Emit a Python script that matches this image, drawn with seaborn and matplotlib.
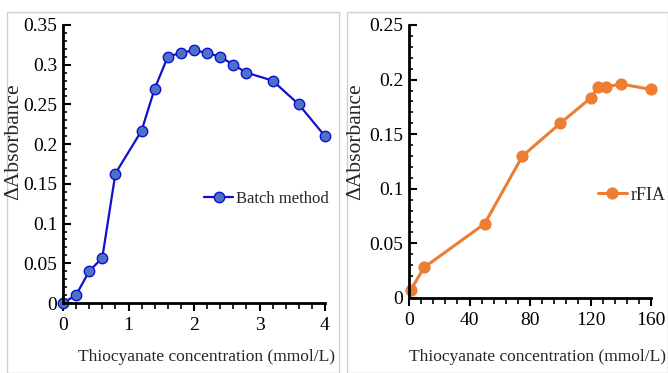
import matplotlib
matplotlib.use("Agg")
import matplotlib.pyplot as plt
import seaborn as sns
import pandas as pd
from matplotlib.patches import Rectangle
from matplotlib.ticker import MultipleLocator, FuncFormatter

batch_conc = [0, 0.2, 0.4, 0.6, 0.8, 1.2, 1.4, 1.6, 1.8, 2.0, 2.2, 2.4, 2.6, 2.8, 3.2, 3.6, 4.0]
batch_abs = [0.0, 0.01, 0.04, 0.057, 0.163, 0.217, 0.27, 0.31, 0.315, 0.318, 0.315, 0.31, 0.30, 0.29, 0.28, 0.25, 0.21]
rfia_conc = [1, 10, 50, 75, 100, 120, 125, 130, 140, 160]
rfia_abs = [0.007, 0.028, 0.068, 0.13, 0.16, 0.183, 0.193, 0.193, 0.196, 0.191]

sns.set_theme(style="white")
plt.rcParams['font.family'] = ['Liberation Serif', 'DejaVu Serif']

W, H = 668, 373
fig = plt.figure(figsize=(W/100, H/100), dpi=100)

# panel frames
for x0, x1 in [(7, 339), (347, 668)]:
    fig.patches.append(Rectangle((x0/W, 0), (x1-x0)/W, (H-12)/H, transform=fig.transFigure,
                                 fill=False, edgecolor='#d0d0d0', lw=1))

def ax_at(l, r, t, b):
    return fig.add_axes([l/W, (H-b)/H, (r-l)/W, (b-t)/H])

ax1 = ax_at(63, 325, 25, 303)
ax2 = ax_at(409, 651, 25, 298)

df1 = pd.DataFrame({'x': batch_conc, 'y': batch_abs})
df2 = pd.DataFrame({'x': rfia_conc, 'y': rfia_abs})

sns.lineplot(data=df1, x='x', y='y', ax=ax1, color='#1010d0', lw=1.6, marker='o',
             markersize=7.5, markerfacecolor='#4a72c8', markeredgecolor='#1010d0',
             markeredgewidth=1, label='Batch method', clip_on=False)
sns.lineplot(data=df2, x='x', y='y', ax=ax2, color='#ed7d31', lw=2.2, marker='o',
             markersize=8, markerfacecolor='#ed7d31', markeredgecolor='#ed7d31',
             label='rFIA', clip_on=False)

ax1.set_xlim(0, 4); ax1.set_ylim(0, 0.35)
ax1.xaxis.set_major_locator(MultipleLocator(1)); ax1.xaxis.set_minor_locator(MultipleLocator(0.2))
ax1.yaxis.set_major_locator(MultipleLocator(0.05)); ax1.yaxis.set_minor_locator(MultipleLocator(0.01))
ax2.set_xlim(0, 160); ax2.set_ylim(0, 0.25)
ax2.xaxis.set_major_locator(MultipleLocator(40)); ax2.xaxis.set_minor_locator(MultipleLocator(8))
ax2.yaxis.set_major_locator(MultipleLocator(0.05)); ax2.yaxis.set_minor_locator(MultipleLocator(0.01))

for ax in (ax1, ax2):
    ax.patch.set_alpha(0)
    for s in ('top', 'right'):
        ax.spines[s].set_visible(False)
    for s in ('left', 'bottom'):
        ax.spines[s].set_color('black'); ax.spines[s].set_linewidth(2)
    ax.tick_params(axis='x', which='major', direction='out', length=6, width=1.5, colors='black',
                   labelsize=14, bottom=True, pad=4)
    ax.tick_params(axis='x', which='minor', direction='out', length=4, width=1.2, colors='black', bottom=True)
    ax.tick_params(axis='y', which='major', direction='in', length=6, width=1.5, colors='black',
                   labelsize=14, left=True, pad=4)
    ax.tick_params(axis='y', which='minor', direction='in', length=3, width=1.2, colors='black', left=True)
    ax.set_xlabel(''); ax.set_ylabel('')
    ax.yaxis.set_major_formatter(FuncFormatter(lambda v, p: '%g' % round(v, 3)))

for xp in (14, 356):
    fig.text(xp/W, (H-142)/H, 'ΔAbsorbance', rotation=90, ha='center', va='center', fontsize=15.5)
fig.text(335/W, (H-357)/H, 'Thiocyanate concentration (mmol/L)', ha='right', va='center', fontsize=12.5)
fig.text(666/W, (H-357)/H, 'Thiocyanate concentration (mmol/L)', ha='right', va='center', fontsize=12.5)

ax1.legend(loc='center left', bbox_to_anchor=(0.54, 0.374), frameon=False, fontsize=12,
           handlelength=1.7, handletextpad=0.2, borderaxespad=0, borderpad=0)
ax2.legend(loc='center left', bbox_to_anchor=(0.78, 0.377), frameon=False, fontsize=13,
           handlelength=1.6, handletextpad=0.2, borderaxespad=0, borderpad=0)

fig.savefig('out.png', dpi=100)
